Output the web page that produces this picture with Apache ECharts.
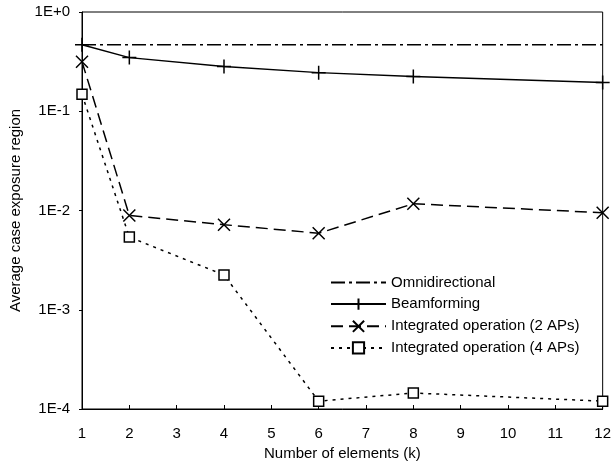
<!DOCTYPE html>
<html>
<head>
<meta charset="utf-8">
<script src="https://cdn.jsdelivr.net/npm/echarts@6/dist/echarts.min.js"></script>
<style>
  html, body { margin: 0; padding: 0; background: #fff; }
  #chart { width: 614px; height: 466px; }
</style>
</head>
<body>
<div id="chart"></div>
<script>
// values
var elements = [1, 2, 4, 6, 8, 12];
var omniX = [1, 12];
var omniValues = [0.468, 0.468];
var beamValues = [0.468, 0.347, 0.282, 0.245, 0.224, 0.195];
var twoApValues = [0.316, 0.0089, 0.0072, 0.0059, 0.0117, 0.0095];
var fourApValues = [0.148, 0.0054, 0.00224, 0.00012, 0.000145, 0.00012];
var seriesNames = ['Omnidirectional', 'Beamforming', 'Integrated operation (2 APs)', 'Integrated operation (4 APs)'];

var FONT = 'Liberation Sans';
var FS = 15;

function pairs(xs, ys) {
    return xs.map(function(x, i) { return [x, ys[i]]; });
}

function expLabel(v) {
    var e = Math.round(Math.log10(v));
    return '1E' + (e >= 0 ? '+' : '-') + Math.abs(e);
}

var plusPath = 'path://M5,0L5,10M0,5L10,5';
var crossPath = 'path://M0,0L10,10M10,0L0,10';

var chart = echarts.init(document.getElementById('chart'));
chart.setOption({
    animation: false,
    backgroundColor: '#fff',
    textStyle: { fontFamily: FONT, color: '#000' },
    grid: {
        left: 82, right: 10, top: 12, bottom: 54,
        show: true, borderColor: '#000', borderWidth: 1
    },
    legend: {
        orient: 'vertical',
        left: 325, top: 270,
        itemWidth: 55, itemHeight: 14, itemGap: 6,
        textStyle: { fontFamily: FONT, fontSize: FS, color: '#000' },
        data: [
            { name: seriesNames[0], itemStyle: { opacity: 0 } },
            seriesNames[1], seriesNames[2], seriesNames[3]
        ]
    },
    xAxis: {
        type: 'value', min: 1, max: 12, interval: 1,
        name: 'Number of elements (k)', nameLocation: 'middle', nameGap: 37,
        nameTextStyle: { fontFamily: FONT, fontSize: FS, color: '#000' },
        axisLine: { lineStyle: { color: '#000', width: 1 } },
        axisTick: { inside: true, length: 4, lineStyle: { color: '#000' } },
        axisLabel: { margin: 17, fontFamily: FONT, fontSize: FS, color: '#000' },
        splitLine: { show: false }
    },
    yAxis: {
        type: 'log', logBase: 10, min: 0.0001, max: 1,
        name: 'Average case exposure region', nameLocation: 'middle', nameGap: 52,
        nameTextStyle: { fontFamily: FONT, fontSize: FS, color: '#000' },
        axisLine: { show: true, lineStyle: { color: '#000', width: 1 } },
        axisTick: { show: true, length: 3, lineStyle: { color: '#000' } },
        axisLabel: { margin: 12, fontFamily: FONT, fontSize: FS, color: '#000', formatter: expLabel },
        splitLine: { show: false }
    },
    series: [
        {
            name: seriesNames[0], type: 'line',
            data: pairs(omniX, omniValues),
            symbol: 'none',
            lineStyle: { color: '#000', width: 1.5, type: [14, 4, 3, 4] },
            itemStyle: { color: '#000' }
        },
        {
            name: seriesNames[1], type: 'line',
            data: pairs(elements, beamValues),
            symbol: plusPath, symbolSize: 14,
            lineStyle: { color: '#000', width: 1.5, type: 'solid' },
            itemStyle: { color: 'none', borderColor: '#000', borderWidth: 1.5 }
        },
        {
            name: seriesNames[2], type: 'line',
            data: pairs(elements, twoApValues),
            symbol: crossPath, symbolSize: 12,
            lineStyle: { color: '#000', width: 1.5, type: [12, 6] },
            itemStyle: { color: 'none', borderColor: '#000', borderWidth: 1.5 }
        },
        {
            name: seriesNames[3], type: 'line',
            data: pairs(elements, fourApValues),
            symbol: 'rect', symbolSize: 10,
            lineStyle: { color: '#000', width: 1.5, type: [3, 5] },
            itemStyle: { color: '#fff', borderColor: '#000', borderWidth: 1.5 }
        }
    ]
});
</script>
</body>
</html>
